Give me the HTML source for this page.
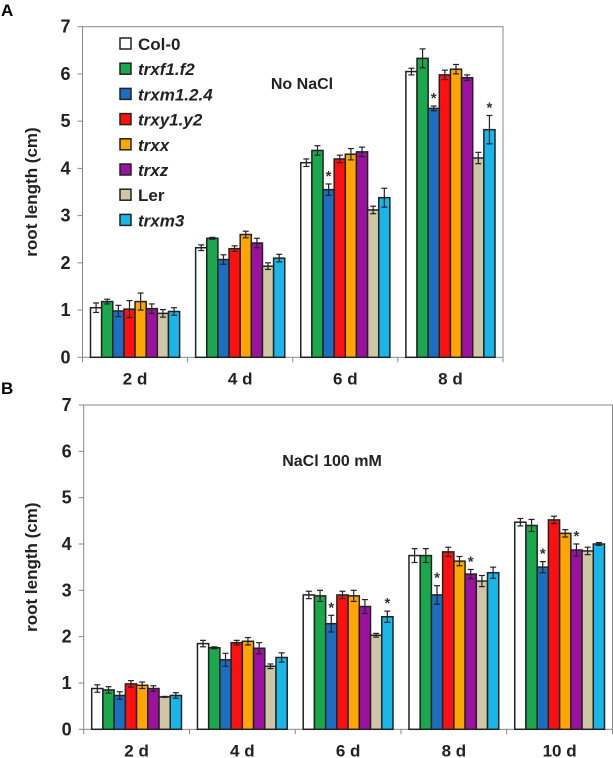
<!DOCTYPE html>
<html><head><meta charset="utf-8"><style>
body{margin:0;background:#fff;}
svg{display:block;font-family:"Liberation Sans",Arial,sans-serif;}
</style></head><body>
<svg id="s" width="613" height="758"></svg>
<script>
const strains=["Col-0","trxf1.f2","trxm1.2.4","trxy1.y2","trxx","trxz","Ler","trxm3"];
const italic=[false,true,true,true,true,true,false,true];
const colors=["#ffffff","#1aa84c","#1c6fc0","#ff1010","#ffa500","#9b12a0","#cfc6a6","#19b6ea"];
const yTicks=[0,1,2,3,4,5,6,7];
const catsA=["2 d","4 d","6 d","8 d"];
const valsA=[[1.05,1.18,0.98,1.02,1.18,1.03,0.93,0.97],[2.32,2.52,2.07,2.3,2.6,2.42,1.93,2.1],[4.12,4.38,3.55,4.2,4.3,4.35,3.12,3.38],[6.05,6.33,5.27,5.98,6.1,5.92,4.22,4.82]];
const errA=[[0.1,0.05,0.12,0.18,0.18,0.1,0.08,0.08],[0.06,0.02,0.1,0.06,0.07,0.1,0.07,0.08],[0.08,0.1,0.12,0.08,0.12,0.1,0.08,0.2],[0.07,0.2,0.05,0.1,0.1,0.06,0.12,0.3]];
const starsA=[[2,2],[3,2],[3,7]];
const catsB=["2 d","4 d","6 d","8 d","10 d"];
const valsB=[[0.88,0.85,0.73,0.98,0.95,0.88,0.7,0.73],[1.85,1.76,1.5,1.87,1.9,1.75,1.36,1.55],[2.9,2.88,2.28,2.9,2.88,2.65,2.03,2.43],[3.75,3.75,2.9,3.83,3.63,3.35,3.2,3.38],[4.47,4.4,3.5,4.52,4.23,3.87,3.85,4.0]];
const errB=[[0.08,0.07,0.08,0.07,0.07,0.06,0.01,0.06],[0.07,0.02,0.14,0.05,0.08,0.12,0.05,0.1],[0.08,0.12,0.18,0.08,0.12,0.15,0.04,0.12],[0.15,0.15,0.2,0.1,0.1,0.1,0.12,0.12],[0.08,0.13,0.12,0.08,0.08,0.13,0.08,0.03]];
const starsB=[[2,2],[2,7],[3,2],[3,5],[4,2],[4,5]];
const NS="http://www.w3.org/2000/svg";
const svg=document.getElementById('s');
function mk(t,a,p){const e=document.createElementNS(NS,t);for(const k in a)e.setAttribute(k,a[k]);(p||svg).appendChild(e);return e;}
function panel(o){
  const g=mk('g',{});
  
  
  const y=v=>o.y0-(v/7)*(o.y0-o.y7);
  const cw=(o.x1-o.x0)/o.cats.length;
  const box=mk('rect',{x:o.x0,y:o.y7,width:o.x1-o.x0,height:o.y0-o.y7,fill:'none',stroke:'#888','stroke-width':1},g);
  
  yTicks.forEach(t=>{
    mk('line',{x1:o.x0-5,x2:o.x0,y1:y(t),y2:y(t),stroke:'#888'},g);
    const tx=mk('text',{x:o.x0-12,y:y(t)+6,'text-anchor':'end','font-size':18,'font-weight':'bold',fill:'#222'},g);
    tx.textContent=t;
    
  });
  for(let i=0;i<=o.cats.length;i++) mk('line',{x1:o.x0+i*cw,x2:o.x0+i*cw,y1:o.y0,y2:o.y0+5,stroke:'#888'},g);
  const bw=(cw-16)/8;
  o.cats.forEach((c,ci)=>{
    const gx=o.x0+ci*cw+8;
    o.vals[ci].forEach((v,si)=>{
      const bx=gx+si*bw;
      const r=mk('rect',{x:bx,y:y(v),width:bw,height:o.y0-y(v),fill:colors[si],stroke:'#222','stroke-width':1.5},g);
      
      
      const e=o.err[ci][si],cx=bx+bw/2;
      mk('line',{x1:cx,x2:cx,y1:y(v+e),y2:y(v-e),stroke:'#222','stroke-width':1.2},g);
      mk('line',{x1:cx-3,x2:cx+3,y1:y(v+e),y2:y(v+e),stroke:'#222','stroke-width':1.2},g);
      mk('line',{x1:cx-3,x2:cx+3,y1:y(v-e),y2:y(v-e),stroke:'#222','stroke-width':1.2},g);
    });
    const lt=mk('text',{x:o.x0+ci*cw+cw/2,y:o.y0+27,'text-anchor':'middle','font-size':17,'font-weight':'bold',fill:'#222'},g);
    lt.textContent=c;
    
  });
  o.stars.forEach(([ci,si])=>{
    const v=o.vals[ci][si]+o.err[ci][si];
    const st=mk('text',{x:o.x0+ci*cw+8+si*bw+bw/2,y:y(v)-3,'text-anchor':'middle','font-size':15,'font-weight':'bold',fill:'#333'},g);
    st.textContent='*';
    
  });
  const yt=mk('text',{x:0,y:0,transform:`translate(37,${(o.y0+o.y7)/2}) rotate(-90)`,'text-anchor':'middle','font-size':17,'font-weight':'bold',fill:'#222'},g);
  yt.textContent='root length (cm)';
  
  const ti=mk('text',{x:o.tx,y:o.ty,'text-anchor':'middle','font-size':16,'font-weight':'bold',fill:'#222'},g);
  ti.textContent=o.title;
  
  const pl=mk('text',{x:1,y:o.ly,'font-size':17,'font-weight':'bold',fill:'#000'},g);
  pl.textContent=o.label;
  
  return g;
}
panel({name:'panel-a',cats:catsA,vals:valsA,err:errA,stars:starsA,x0:82.5,x1:503,y0:357.3,y7:26.7,title:'No NaCl',tx:302,ty:89,label:'A',ly:16});
panel({name:'panel-b',cats:catsB,vals:valsB,err:errB,stars:starsB,x0:83.7,x1:612.5,y0:729.3,y7:405,title:'NaCl 100 mM',tx:332,ty:466,label:'B',ly:394});
const lg=mk('g',{});

strains.forEach((s,i)=>{
  const yy=44+i*25.2;
  const sq=mk('rect',{x:120,y:yy-6,width:11,height:11,fill:colors[i],stroke:'#222','stroke-width':1.5},lg);
  
  const t=mk('text',{x:138,y:yy+6,'font-size':17,'font-weight':'bold','font-style':italic[i]?'italic':'normal',fill:'#222'},lg);
  t.textContent=s;
  
});
</script>
</body></html>
